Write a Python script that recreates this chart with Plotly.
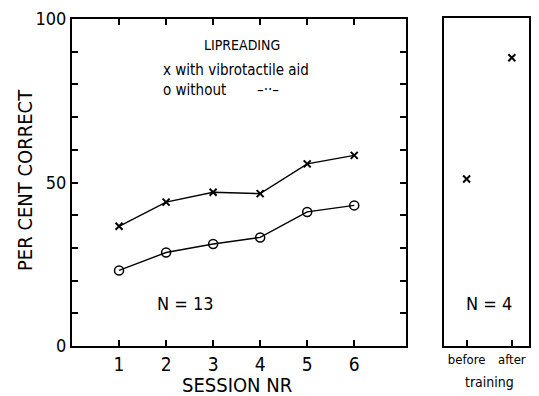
import plotly.graph_objects as go

sessions = [1, 2, 3, 4, 5, 6]
with_aid = [36.6, 44.0, 47.0, 46.6, 55.7, 58.3]
without_aid = [23.1, 28.6, 31.2, 33.2, 41.0, 43.0]
train_labels = ["before", "after"]
train_values = [50.9, 87.9]
y_ticks = list(range(0, 101, 10))
y_text = [str(v) if v in (0, 50, 100) else "" for v in y_ticks]

FONT = "DejaVu Sans Condensed, DejaVu Sans, Liberation Sans Narrow, sans-serif"
OFF = 8  # page body margin
W, H = 539 - OFF, 396 - OFF
def px(x): return (x - OFF) / W
def py(y): return 1 - (y - OFF) / H

fig = go.Figure()
fig.add_trace(go.Scatter(x=sessions, y=with_aid, mode="lines+markers",
    line=dict(color="black", width=1.4),
    marker=dict(symbol="x-thin", size=7, line=dict(color="black", width=2)),
    xaxis="x", yaxis="y", showlegend=False))
fig.add_trace(go.Scatter(x=sessions, y=without_aid, mode="lines+markers",
    line=dict(color="black", width=1.4),
    marker=dict(symbol="circle-open", size=9, color="black", line=dict(width=1.5)),
    xaxis="x", yaxis="y", showlegend=False))
fig.add_trace(go.Scatter(x=[0, 1], y=train_values, mode="markers",
    marker=dict(symbol="x-thin", size=7, line=dict(color="black", width=2)),
    xaxis="x2", yaxis="y2", showlegend=False))

axis_common = dict(showgrid=False, zeroline=False, showline=True, linecolor="black",
                   linewidth=2, tickcolor="black", ticks="inside", ticklen=6, tickwidth=1.5,
                   automargin=False)

fig.update_layout(
    width=W, height=H, autosize=False, margin=dict(l=0, r=0, t=0, b=0, pad=0),
    paper_bgcolor="white", plot_bgcolor="white",
    font=dict(family=FONT, color="black"),
    xaxis=dict(domain=[px(72), px(406)], range=[0, 7.1], tickvals=sessions,
               mirror="ticks", anchor="y", tickfont=dict(size=19),
               **axis_common),
    yaxis=dict(domain=[py(346), py(19)], range=[0, 100], tickvals=y_ticks, ticktext=y_text,
               mirror="ticks", anchor="x", tickfont=dict(size=18), **axis_common),
    xaxis2=dict(domain=[px(444), px(529)], range=[-0.5, 1.38], tickvals=[0, 1],
                ticktext=train_labels, anchor="y2", mirror=True,
                tickfont=dict(size=13), **axis_common),
    yaxis2=dict(domain=[py(346), py(18)], range=[0, 100], anchor="x2", showticklabels=False,
                showgrid=False, zeroline=False, showline=True, linecolor="black",
                linewidth=2, mirror=True, ticks="", automargin=False),
)

def text(x, y, s, size, angle=0, xanchor="center"):
    fig.add_annotation(xref="paper", yref="paper", x=px(x), y=py(y), text=s,
                       showarrow=False, textangle=angle, xanchor=xanchor, yanchor="middle",
                       font=dict(size=size, family=FONT, color="black"))

text(237, 385, "SESSION NR", 20)
text(25, 180, "PER CENT CORRECT", 20, angle=-90)
text(185, 303, "N = 13", 18)
text(489, 303, "N = 4", 18)
text(489, 382, "training", 14)
text(242, 45, "LIPREADING", 14)
text(161, 70, "x with vibrotactile aid", 15, xanchor="left")
text(161, 90, "o without", 15, xanchor="left")
text(255, 90, "–··–", 15, xanchor="left")

fig.write_html("out.html")
